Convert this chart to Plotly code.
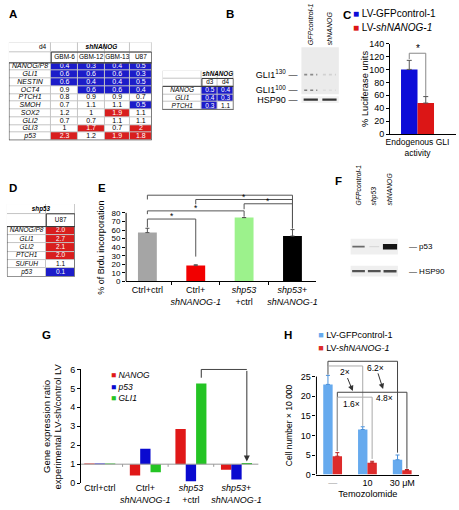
import numpy as np
import plotly.graph_objects as go

# ======================= DATA =======================
A_cols = ["GBM-6", "GBM-12", "GBM-13", "U87"]
A_rows = ["NANOG/P8", "GLI1", "NESTIN", "OCT4", "PTCH1", "SMOH", "SOX2", "GLI2", "GLI3", "p53"]
A_vals = [[0.4, 0.3, 0.4, 0.5], [0.6, 0.6, 0.6, 0.3], [0.6, 0.4, 0.4, 0.5], [0.9, 0.6, 0.6, 0.4],
          [0.8, 0.9, 0.9, 0.7], [0.7, 1.1, 1.1, 0.5], [1.2, 1, 1.9, 1.1], [0.7, 0.7, 1.1, 1.1],
          [1, 1.7, 0.7, 2], [2.3, 1.2, 1.9, 1.8]]
A_day = "d4"
A_treat = "shNANOG"
A2_cols = ["d3", "d4"]
A2_rows = ["NANOG", "GLI1", "PTCH1"]
A2_vals = [[0.5, 0.4], [0.4, 0.3], [0.3, 1.1]]
A2_treat = "shNANOG"
D_cols = ["U87"]
D_rows = ["NANOG/P8", "GLI1", "GLI2", "PTCH1", "SUFUH", "p53"]
D_vals = [[2.0], [2.7], [2.1], [2.0], [1.1], [0.1]]
D_treat = "shp53"

B_lanes = ["GFPcontrol-1", "shNANOG"]
B_gli_bands = [130, 100]                      # kDa
B_gli_intensity = [[0.45, 0.12], [0.5, 0.06]]  # band x lane
B_hsp_intensity = [0.85, 0.85]

C_groups = ["Endogenous GLI<br>activity"]
C_series = ["LV-GFPcontrol-1", "LV-<i>shNANOG-1</i>"]
C_vals = [100, 48]
C_err = [14, 10]

E_cats = ["Ctrl+ctrl", "Ctrl+<br><i>shNANOG-1</i>", "<i>shp53</i><br>+ctrl", "<i>shp53</i>+<br><i>shNANOG-1</i>"]
E_vals = [57, 18.5, 74.5, 53]
E_err = [5, 1, 0, 7.5]

F_lanes = ["GFPcontrol-1", "shp53", "shNANOG"]
F_bands = ["p53", "HSP90"]
F_intensity = [[0.6, 0.08, 1.0], [0.7, 0.7, 0.75]]

G_cats = ["Ctrl+ctrl", "Ctrl+<br><i>shNANOG-1</i>", "<i>shp53</i><br>+ctrl", "<i>shp53</i>+<br><i>shNANOG-1</i>"]
G_genes = ["NANOG", "p53", "GLI1"]
G_vals = [[1.03, 0.40, 2.85, 0.71],
          [1.03, 1.81, 0.10, 0.19],
          [1.03, 0.57, 5.26, 1.06]]

H_doses = ["—", "10", "30 μM"]
H_series = ["LV-GFPcontrol-1", "LV-<i>shNANOG-1</i>"]
H_vals = [[23.0, 11.5, 3.8], [4.7, 3.0, 1.1]]
H_err = [[2.3, 0.7, 1.2], [0.9, 0.4, 0.2]]
H_folds = ["2×", "6.2×", "1.6×", "4.8×"]

# ======================= STYLE / LAYOUT HELPERS =======================
W, H = 459, 510
FONT = "Liberation Sans, Arial, Helvetica, sans-serif"
TBL_BLUE = "#1c1cc9"
TBL_RED = "#d81e1e"

fig = go.Figure()
lay = {}
annotations = []
shapes = []


def dom_x(a, b):
    return [a / W, b / W]


def dom_y(top, bottom):
    return [1 - bottom / H, 1 - top / H]


def ax(n):
    s = "" if n == 1 else str(n)
    return "x" + s, "y" + s, "xaxis" + s, "yaxis" + s


def ann(text, x, y, xref="paper", yref="paper", size=9, **kw):
    d = dict(text=text, x=x, y=y, xref=xref, yref=yref, showarrow=False,
             xanchor="center", yanchor="middle",
             font=dict(size=size, family=FONT, color="#000"))
    d.update(kw)
    annotations.append(d)


def line(xref, yref, x0, y0, x1, y1, color="#444", width=1):
    shapes.append(dict(type="line", xref=xref, yref=yref, x0=x0, y0=y0, x1=x1, y1=y1,
                       line=dict(color=color, width=width)))


def bracket(xref, yref, xa, ya, xb, yb, ytop, color="#444"):
    line(xref, yref, xa, ya, xa, ytop, color)
    line(xref, yref, xa, ytop, xb, ytop, color)
    line(xref, yref, xb, ytop, xb, yb, color)


AX = dict(showgrid=False, zeroline=False, linecolor="#000", linewidth=1, ticks="outside",
          ticklen=3, tickcolor="#000", tickfont=dict(size=9, color="#000", family=FONT),
          showline=True, fixedrange=True)


def table(n, cols, rows, vals, colw, rowh, xd, yd, head_left, head_mid, mid_span, fmt,
          lab_size, val_size, head_size):
    xs, ys, xn, yn = ax(n)
    xe = np.concatenate([[0.0], np.cumsum(colw)])
    ye = np.concatenate([[0.0], np.cumsum(rowh)])
    xc = (xe[:-1] + xe[1:]) / 2
    yc = (ye[:-1] + ye[1:]) / 2
    nr, nc = len(rows) + 2, len(cols) + 1
    z = np.zeros((nr, nc))
    for i, r in enumerate(vals):
        for j, v in enumerate(r):
            z[i + 2, j + 1] = -1 if v <= 0.6 else (1 if v >= 1.5 else 0)
    fig.add_trace(go.Heatmap(
        z=z, x=xe, y=ye, zmin=-1, zmax=1,
        colorscale=[[0, TBL_BLUE], [0.33, TBL_BLUE], [0.34, "#ffffff"], [0.66, "#ffffff"],
                    [0.67, TBL_RED], [1, TBL_RED]],
        showscale=False, xgap=1, ygap=1, hoverinfo="skip", xaxis=xs, yaxis=ys))
    tx, ty, tt, tc, tp, tsz = [], [], [], [], [], []

    def put(x, y, t, c="#000", pos="middle center", sz=val_size):
        tx.append(x); ty.append(y); tt.append(t); tc.append(c); tp.append(pos); tsz.append(sz)

    if head_left:
        put(xe[1] - 0.12 * colw[0], yc[0], head_left, pos="middle left", sz=head_size)
    mid_x = (xe[1] + xe[-1]) / 2 if mid_span == "data" else (xe[0] + xe[-1]) / 2
    put(mid_x, yc[0], f"<b><i>{head_mid}</i></b>", sz=head_size)
    for j, c in enumerate(cols):
        put(xc[j + 1], yc[1], c, sz=head_size)
    for i, r in enumerate(rows):
        put(xc[0], yc[i + 2], f"<i>{r}</i>", sz=lab_size)
        for j, v in enumerate(vals[i]):
            put(xc[j + 1], yc[i + 2], format(v, fmt), "#fff" if z[i + 2, j + 1] != 0 else "#000")
    fig.add_trace(go.Scatter(x=tx, y=ty, text=tt, mode="text", textposition=tp,
                             textfont=dict(color=tc, size=tsz, family=FONT), hoverinfo="skip",
                             showlegend=False, xaxis=xs, yaxis=ys, cliponaxis=False))
    lay[xn] = dict(domain=xd, range=[xe[0], xe[-1]], visible=False, anchor=ys, fixedrange=True)
    lay[yn] = dict(domain=yd, range=[ye[-1], ye[0]], visible=False, anchor=xs, fixedrange=True)
    shapes.append(dict(type="rect", xref=xs + " domain", yref=ys + " domain", x0=0, x1=1, y0=0, y1=1,
                       fillcolor="#c4c4c4", line=dict(width=0), layer="below"))
    shapes.append(dict(type="rect", xref=xs, yref=ys, x0=xe[0], x1=xe[-1], y0=ye[2], y1=ye[-1],
                       line=dict(color="#3a3a3a", width=1)))
    shapes.append(dict(type="rect", xref=xs, yref=ys, x0=xe[1], x1=xe[-1], y0=ye[1], y1=ye[2],
                       line=dict(color="#3a3a3a", width=1)))


# ======================= A & D tables =======================
table(1, A_cols, A_rows, A_vals, [43, 27, 27, 26, 22], [10, 11] + [7.9] * 10,
      dom_x(5, 150), dom_y(38, 138), A_day, A_treat, "data", "g", 7, 7, 6.5)
table(2, A2_cols, A2_rows, A2_vals, [40, 16, 16], [8, 8, 8, 8, 8],
      dom_x(161, 233), dom_y(67, 107), "", A2_treat, "data", "g", 6.5, 6.5, 6.3)
table(3, D_cols, D_rows, D_vals, [40, 29], [10, 13] + [8.5] * 6,
      dom_x(3, 72), dom_y(203, 277), "", D_treat, "all", ".1f", 6.5, 6.5, 6.3)


def gray(v):
    g = int(235 - 215 * v)
    return f"rgb({g},{g},{g})"


# ======================= B blot =======================
xs, ys, xn, yn = ax(4)
lay[xn] = dict(domain=dom_x(302, 340), range=[-0.5, 1.5], anchor=ys, side="top",
               tickmode="array", tickvals=list(range(len(B_lanes))),
               ticktext=[f"<i>{l}</i>" for l in B_lanes], tickangle=-90, ticks="",
               showline=False, showgrid=False, zeroline=False, fixedrange=True,
               tickfont=dict(size=7, family=FONT, color="#000"), ticklabelstandoff=1)
lay[yn] = dict(domain=dom_y(43, 91), range=[92.5, 182.5], anchor=xs, tickmode="array",
               tickvals=B_gli_bands, ticktext=[f"GLI1<sup>{k}</sup> —" for k in B_gli_bands],
               ticks="", showline=False, showgrid=False, zeroline=False, fixedrange=True,
               tickfont=dict(size=9, family=FONT, color="#000"), ticklabelstandoff=3)
shapes.append(dict(type="rect", xref=xs + " domain", yref=ys + " domain", x0=0, x1=1, y0=0, y1=1,
                   fillcolor="#ebebeb", line=dict(width=0), layer="below"))
for j, kda in enumerate(B_gli_bands):
    for i in range(len(B_lanes)):
        v = B_gli_intensity[j][i]
        fig.add_trace(go.Scatter(x=[i - 0.35, i + 0.35], y=[kda, kda], mode="lines",
                                 line=dict(color=gray(v), width=1.6, dash="dot"),
                                 hoverinfo="skip", showlegend=False, xaxis=xs, yaxis=ys))
xs, ys, xn, yn = ax(5)
lay[xn] = dict(domain=dom_x(302, 340), range=[-0.5, 1.5], anchor=ys, visible=False, fixedrange=True)
lay[yn] = dict(domain=dom_y(93, 100), type="category", range=[-0.5, 0.5], anchor=xs,
               tickmode="array", tickvals=["HSP90"], ticktext=["HSP90 —"], ticks="",
               showline=False, showgrid=False, zeroline=False, fixedrange=True,
               tickfont=dict(size=9, family=FONT, color="#000"), ticklabelstandoff=3)
shapes.append(dict(type="rect", xref=xs + " domain", yref=ys + " domain", x0=0, x1=1, y0=0, y1=1,
                   fillcolor="#f2f2f2", line=dict(width=0), layer="below"))
for i in range(len(B_lanes)):
    v = B_hsp_intensity[i]
    fig.add_trace(go.Scatter(x=[i - 0.38, i + 0.38], y=["HSP90", "HSP90"], mode="lines",
                             line=dict(color=gray(v), width=2.2), hoverinfo="skip",
                             showlegend=False, xaxis=xs, yaxis=ys))

# ======================= F blot =======================
xs, ys, xn, yn = ax(7)
lay[xn] = dict(domain=dom_x(352, 400), range=[-0.5, 2.5], anchor=ys, side="top",
               tickmode="array", tickvals=list(range(len(F_lanes))),
               ticktext=[f"<i>{l}</i>" for l in F_lanes], tickangle=-90, ticks="",
               showline=False, showgrid=False, zeroline=False, fixedrange=True,
               tickfont=dict(size=6.8, family=FONT, color="#000"), ticklabelstandoff=28)
lay[yn] = dict(domain=dom_y(234, 284), type="category", categoryarray=F_bands,
               range=[len(F_bands) - 0.5, -0.5], anchor=xs, side="right", tickmode="array",
               tickvals=F_bands, ticktext=[f"— {b}" for b in F_bands], ticks="",
               showline=False, showgrid=False, zeroline=False, fixedrange=True,
               tickfont=dict(size=8, family=FONT, color="#000"), ticklabelstandoff=10)
F_strip_half = [0.32, 0.22]
for j, b in enumerate(F_bands):
    shapes.append(dict(type="rect", xref=xs + " domain", yref=ys, x0=0, x1=1,
                       y0=j - F_strip_half[j], y1=j + F_strip_half[j],
                       fillcolor="#efefef", line=dict(width=0), layer="below"))
    for i in range(len(F_lanes)):
        v = F_intensity[j][i]
        hl = 0.3 + 0.15 * v
        fig.add_trace(go.Scatter(x=[i - hl, i + hl], y=[b, b], mode="lines",
                                 line=dict(color=gray(v), width=1.2 + 4.3 * v ** 4),
                                 hoverinfo="skip", showlegend=False, xaxis=xs, yaxis=ys))

# ======================= C bars =======================
xs, ys, xn, yn = ax(6)
lay[xn] = dict(AX, domain=dom_x(392, 459), type="category", range=[-0.5, 0.7], anchor=ys,
               ticks="", tickangle=0, tickfont=dict(size=8.5, family=FONT, color="#000"))
lay[yn] = dict(AX, domain=dom_y(39.3, 131.7), range=[0, 140], dtick=20, anchor=xs)
C_colors = ["#0c0cd8", "#dc1616"]
for k in range(len(C_series)):
    fig.add_trace(go.Bar(x=C_groups, y=[C_vals[k]], width=0.3, offset=-0.3 + 0.3 * k,
                         name=C_series[k],
                         marker=dict(color=C_colors[k], line=dict(width=0)),
                         error_y=dict(type="data", array=[C_err[k]], arrayminus=[0],
                                      symmetric=False, color="#555", thickness=1, width=2.5),
                         hoverinfo="skip", showlegend=False, xaxis=xs, yaxis=ys))
bracket(xs, ys, -0.15, C_vals[0] + C_err[0] + 2, 0.15, C_vals[1] + C_err[1] + 1, 125, "#888")
ann("*", 0, 133, xs, ys, size=10)
ann("% Luciferase units", 366.7 / W, 70, "paper", ys, size=9.3, textangle=-90)
# C key (placed as text: a plotly legend box cannot sit this close to the top edge)
for k, ty_px in enumerate([8.3, 23.3]):
    ann(f"<span style='color:{C_colors[k]}'>■</span> {C_series[k]}", 352 / W, 1 - ty_px / H,
        size=10, xanchor="left")

# ======================= E bars =======================
xs, ys, xn, yn = ax(8)
lay[xn] = dict(AX, domain=dom_x(124, 317), type="category", categoryarray=E_cats,
               range=[-0.44, 3.49], tickson="boundaries", anchor=ys, tickangle=0)
lay[yn] = dict(AX, domain=dom_y(191.9, 282), range=[0, 103], tickmode="array",
               tickvals=list(range(0, 81, 10)), showline=False, anchor=xs,
               tickfont=dict(size=8, family=FONT, color="#000"))
line(xs + " domain", ys, 0, 0, 0, 80, "#000")
E_colors = ["#a5a5a5", "#f20000", "#9cf28c", "#000000"]
fig.add_trace(go.Bar(x=E_cats, y=E_vals, width=0.39, marker=dict(color=E_colors, line=dict(width=0)),
                     error_y=dict(type="data", array=E_err, arrayminus=[0] * 4, symmetric=False,
                                  color="#555", thickness=1, width=2),
                     hoverinfo="skip", showlegend=False, xaxis=xs, yaxis=ys))
# significance brackets: (left cat, left foot, right cat, right foot, top, label, label y)
E_brackets = [(0, 63, 1, 29, 72.8, "*", 75.8),
              (0, 78.5, 2, 75.5, 82.3, "*", 85.3),
              (1, 90, 3, 62, 95.6, "*", 98.6),
              (2, 84.2, 3, 62, 90.6, "*", 93.6),
              (0, 95.6, 3, 62, 100.6, "NS", 105.5)]
for a, ya, b, yb, top, lab, ly in E_brackets:
    bracket(xs, ys, a, ya, b, yb, top, "#555")
    ann(lab, (a + b) / 2, ly, xs, ys, size=9 if lab == "NS" else 8.5)
ann("% of Brdu incorporation", 99 / W, 40, "paper", ys, size=9, textangle=-90)

# ======================= G bars =======================
xs, ys, xn, yn = ax(9)
lay[xn] = dict(AX, domain=dom_x(78.3, 258.3), type="category", categoryarray=G_cats,
               range=[-0.41, 3.48], showline=False, ticks="", anchor=ys, tickangle=0,
               ticklabelstandoff=-2)
lay[yn] = dict(AX, domain=dom_y(370.9, 487.7), range=[0, 6.04], dtick=1, anchor=xs)
G_colors = ["#e01818", "#0a0ad0", "#24c424"]
gw = 0.227
for k, gname in enumerate(G_genes):
    fig.add_trace(go.Bar(x=G_cats, y=[v - 1 for v in G_vals[k]], base=1, width=gw,
                         offset=-1.5 * gw + k * gw, name=gname,
                         marker=dict(color=G_colors[k], line=dict(width=0)),
                         hoverinfo="skip", showlegend=False, xaxis=xs, yaxis=ys))
line(xs + " domain", ys, 0, 1, 1, 1, "#999")
for i in range(len(G_cats) - 1):
    line(xs, ys, i + 0.5, 1, i + 0.5, 0.86, "#999")
gl = 2 + gw
gr = 3 + gw
line(xs, ys, gl, G_vals[2][2] + 0.3, gl, 6.0, "#333")
line(xs, ys, gl, 6.0, gr, 6.0, "#333")
annotations.append(dict(x=gr, y=G_vals[2][3] + 0.08, ax=gr, ay=6.0, xref=xs, yref=ys,
                        axref=xs, ayref=ys, text="", showarrow=True, arrowhead=2,
                        arrowsize=1.2, arrowwidth=1, arrowcolor="#333", standoff=0))
ann("*", (gl + gr) / 2, 6.2, xs, ys, size=9)
ann("Gene expression ratio", 43.3 / W, 3, "paper", ys, size=9.5, textangle=-90)
ann("experimental LV-sh/control LV", 54 / W, 3, "paper", ys, size=9.5, textangle=-90)

# ======================= H bars =======================
xs, ys, xn, yn = ax(10)
lay[xn] = dict(AX, domain=dom_x(317.3, 421.7), type="category", categoryarray=H_doses,
               range=[-0.465, 2.49], ticks="", anchor=ys, tickmode="array", tickvals=H_doses,
               ticktext=["<span style='color:#999'>—</span>"] + H_doses[1:], tickangle=0,
               title=dict(text="Temozolomide", font=dict(size=9.2, family=FONT, color="#000"),
                          standoff=3))
lay[yn] = dict(AX, domain=dom_y(357, 479), range=[0, 30.5], tickmode="array",
               tickvals=[0, 5, 10, 15, 20, 25], showline=False, anchor=xs)
line(xs + " domain", ys, 0, 0, 0, 25, "#000")
H_colors = ["#66aaee", "#dd2b2b"]
H_errc = ["#4a90d9", "#b81e1e"]
hw = 0.27
for k in range(len(H_series)):
    fig.add_trace(go.Bar(x=H_doses, y=H_vals[k], width=hw, offset=-hw + k * hw,
                         name=H_series[k],
                         marker=dict(color=H_colors[k], line=dict(width=0)),
                         error_y=dict(type="data", array=H_err[k], arrayminus=[0] * 3,
                                      symmetric=False, color=H_errc[k], thickness=1, width=2),
                         hoverinfo="skip", showlegend=False, xaxis=xs, yaxis=ys))
bl = -hw / 2
rl = hw / 2
bracket(xs, ys, bl, H_vals[0][0] + H_err[0][0] + 0.2, 2 + bl, 5.6, 28.9, "#444")
bracket(xs, ys, bl, 25.6, 1 + bl, 12.4, 27.7, "#aaa")
bracket(xs, ys, rl, 6.0, 2 + rl, 1.5, 21.0, "#444")
bracket(xs, ys, rl, 6.0, 1 + rl, 4.0, 19.75, "#aaa")
for lab, (fx, fy) in zip(H_folds, [(0.35, 26.1), (1.24, 27.3), (0.54, 17.9), (1.5, 19.5)]):
    ann(lab, fx, fy, xs, ys, size=8.5)
for (x0, y0, x1, y1) in [(0.41, 25.0, 0.58, 21.3), (1.29, 26.2, 1.45, 21.8)]:
    annotations.append(dict(x=x1, y=y1, ax=x0, ay=y0, xref=xs, yref=ys, axref=xs, ayref=ys,
                            text="", showarrow=True, arrowhead=2, arrowsize=1.1, arrowwidth=1,
                            arrowcolor="#333", standoff=0))
ann("Cell number × 10 000", 289 / W, 12.5, "paper", ys, size=8.5, textangle=-90)

# ======================= legends (G and H) =======================
legend_specs = [
    ("legend", f"<i>{G_genes[0]}</i>", G_colors[0], 9, 108, 377.3, 8.5),
    ("legend2", f"<i>{G_genes[1]}</i>", G_colors[1], 9, 108, 389.3, 8.5),
    ("legend3", f"<i>{G_genes[2]}</i>", G_colors[2], 9, 108, 400.7, 8.5),
    ("legend4", H_series[0], H_colors[0], 10, 318.5, 336, 9),
    ("legend5", H_series[1], H_colors[1], 10, 318.5, 349.3, 9),
]
for key, name, color, n, tx_px, ty_px, fs in legend_specs:
    xs, ys, _, _ = ax(n)
    fig.add_trace(go.Scatter(x=[None], y=[None], mode="markers",
                             marker=dict(color="rgba(0,0,0,0)", size=1),
                             name=f"<span style='color:{color}'>■</span> {name}",
                             legend=key, showlegend=True, xaxis=xs, yaxis=ys, hoverinfo="skip"))
    lay[key] = dict(x=(tx_px - 40) / W, y=1 - ty_px / H, xanchor="left", yanchor="middle",
                    xref="paper", yref="paper",
                    bgcolor="rgba(0,0,0,0)", borderwidth=0,
                    font=dict(size=fs, family=FONT, color="#000"))

# ======================= panel letters =======================
for lab, px, py in [("A", 9, 9), ("B", 230, 9), ("C", 348, 10), ("D", 9, 187), ("E", 100, 187),
                    ("F", 340, 180), ("G", 43, 337), ("H", 288, 337)]:
    ann(f"<b>{lab}</b>", px / W, 1 - py / H, size=11.5)

fig.update_layout(width=W, height=H, autosize=False, margin=dict(l=0, r=0, t=0, b=0),
                  paper_bgcolor="#ffffff", plot_bgcolor="#ffffff", barmode="overlay",
                  font=dict(family=FONT, color="#000", size=9), showlegend=True,
                  annotations=annotations, shapes=shapes, **lay)
fig.write_html("out.html", config={"displayModeBar": False, "staticPlot": True},
               post_script="document.body.style.margin='0';document.body.style.overflow='hidden';")
